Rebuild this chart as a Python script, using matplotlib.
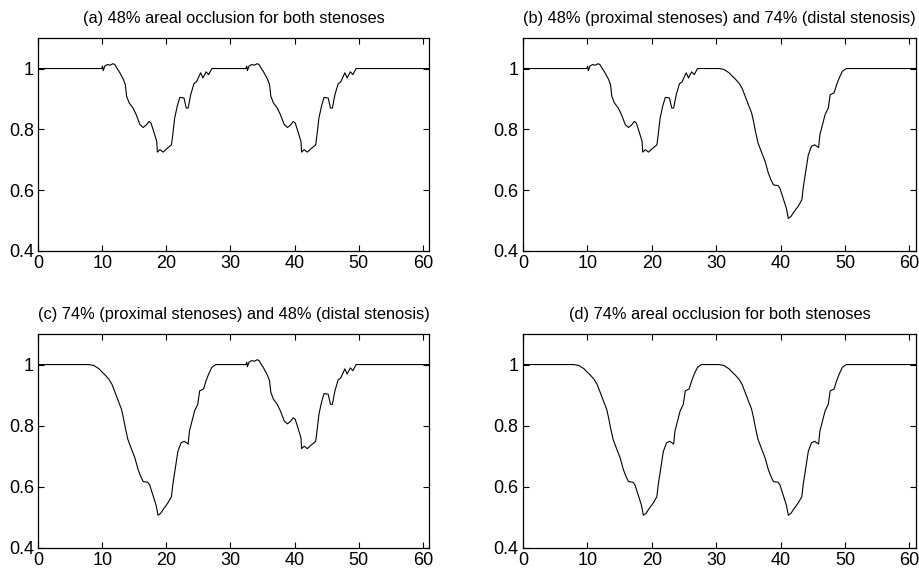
import matplotlib
matplotlib.use('Agg')
import matplotlib.pyplot as plt


# normalised profile through one stenosis, read in the proximal position
STENOSIS_48_X = [9.9, 10.05, 10.15, 10.4, 10.8, 11.2, 11.7, 12.0, 12.2, 12.75,
                 13.3, 13.6, 13.8, 14.2, 14.8, 15.3, 15.9, 16.4, 16.9, 17.3,
                 17.6, 18.1, 18.5, 18.6, 19.0, 19.5, 20.0, 20.8, 21.0, 21.3,
                 21.7, 22.1, 22.75, 23.1, 23.4, 23.8, 24.3, 24.7, 25.35, 25.7,
                 26.2, 26.6, 27.1]
STENOSIS_48_Y = [1.0, 1.008, 0.993, 1.008, 1.013, 1.011, 1.016, 1.012, 1.004, 0.986,
                 0.964, 0.947, 0.909, 0.887, 0.870, 0.848, 0.815, 0.806, 0.815, 0.826,
                 0.821, 0.788, 0.760, 0.725, 0.733, 0.725, 0.735, 0.749, 0.782, 0.837,
                 0.876, 0.905, 0.903, 0.870, 0.870, 0.914, 0.950, 0.956, 0.986, 0.969,
                 0.989, 0.980, 1.0]

STENOSIS_74_X = [7.9, 8.7, 9.5, 10.0, 10.4, 11.0, 11.5, 12.0, 12.5, 13.0,
                 13.3, 13.6, 14.0, 14.5, 15.1, 15.6, 16.0, 16.4, 17.1, 17.4,
                 17.9, 18.4, 18.7, 19.1, 19.6, 20.2, 20.8, 21.0, 21.4, 21.8,
                 22.3, 22.8, 23.4, 23.6, 24.0, 24.4, 24.9, 25.2, 25.8, 26.2,
                 26.6, 27.1, 27.7]
STENOSIS_74_Y = [1.0, 0.997, 0.986, 0.975, 0.967, 0.953, 0.936, 0.909, 0.881, 0.854,
                 0.826, 0.793, 0.755, 0.727, 0.694, 0.656, 0.634, 0.617, 0.615, 0.606,
                 0.573, 0.540, 0.507, 0.513, 0.529, 0.546, 0.568, 0.606, 0.661, 0.716,
                 0.744, 0.749, 0.740, 0.782, 0.815, 0.848, 0.870, 0.914, 0.920, 0.947,
                 0.969, 0.991, 1.0]

DISTAL_SHIFT = 22.5
X_END = 61

TITLES = [
    '(a) 48% areal occlusion for both stenoses',
    '(b) 48% (proximal stenoses) and 74% (distal stenosis)',
    '(c) 74% (proximal stenoses) and 48% (distal stenosis)',
    '(d) 74% areal occlusion for both stenoses',
]
# (proximal, distal) occlusion per panel
CASES = [(48, 48), (48, 74), (74, 48), (74, 74)]

PROFILES = {
    48: (STENOSIS_48_X, STENOSIS_48_Y),
    74: (STENOSIS_74_X, STENOSIS_74_Y),
}


def build_series(proximal, distal):
    px, py = PROFILES[proximal]
    dx, dy = PROFILES[distal]
    x = [0] + px + [v + DISTAL_SHIFT for v in dx] + [X_END]
    y = [1.0] + py + dy + [1.0]
    return x, y


plt.rcParams['font.family'] = ['Liberation Sans', 'DejaVu Sans']

fig = plt.figure(figsize=(9.19, 5.69), dpi=100)
positions = [
    [0.0415, 0.559, 0.4255, 0.374],
    [0.569, 0.559, 0.4276, 0.374],
    [0.0415, 0.037, 0.4255, 0.376],
    [0.569, 0.037, 0.4276, 0.376],
]

for pos, title, (prox, dist) in zip(positions, TITLES, CASES):
    ax = fig.add_axes(pos)
    x, y = build_series(prox, dist)
    ax.plot(x, y, color='black', linewidth=0.8)
    ax.set_xlim(0, X_END)
    ax.set_ylim(0.4, 1.1)
    ax.set_xticks([0, 10, 20, 30, 40, 50, 60])
    ax.set_yticks([0.4, 0.6, 0.8, 1.0])
    ax.set_yticklabels(['0.4', '0.6', '0.8', '1'])
    ax.tick_params(direction='in', top=True, right=True, length=4,
                   width=0.8, labelsize=13, pad=3)
    for spine in ax.spines.values():
        spine.set_linewidth(0.9)
    ax.set_title(title, fontsize=11.8, pad=11)

fig.savefig('out.png', dpi=100)
